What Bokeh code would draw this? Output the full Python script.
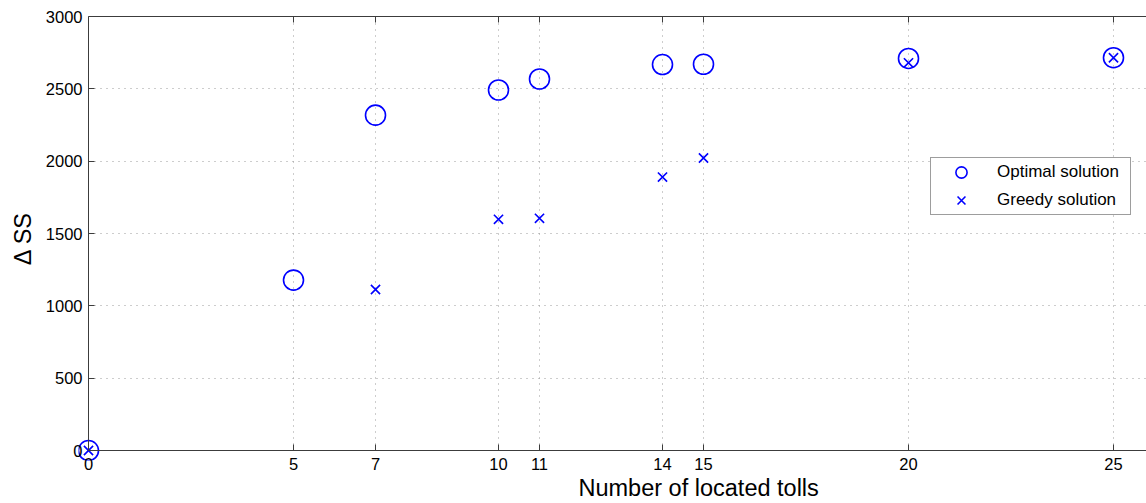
from bokeh.plotting import figure
from bokeh.models import (ColumnDataSource, FixedTicker, LinearAxis, Range1d,
                          Legend, LegendItem, Title)
from bokeh.embed import file_html
from bokeh.resources import INLINE

# ---- data ----
tolls_optimal = [0, 5, 7, 10, 11, 14, 15, 20, 25]
ss_optimal = [0, 1178, 2318, 2492, 2568, 2668, 2670, 2710, 2715]
tolls_greedy = [0, 7, 10, 11, 14, 15, 20, 25]
ss_greedy = [0, 1113, 1598, 1605, 1890, 2022, 2680, 2715]
x_ticks = [0, 5, 7, 10, 11, 14, 15, 20, 25]
y_ticks = [0, 500, 1000, 1500, 2000, 2500, 3000]

FONT = "Liberation Sans"
BLUE = "#0000ff"
AXC = "#3c3c3c"

X_END = 25.805
p = figure(width=1146, height=503, output_backend="svg", toolbar_location=None,
           x_range=Range1d(-0.244, X_END), y_range=Range1d(-69, 3000),
           min_border_left=78, min_border_top=16, min_border_right=0,
           min_border_bottom=43)
p.outline_line_color = None
p.background_fill_color = "white"
p.border_fill_color = "white"

# grid
for g in (p.xgrid, p.ygrid):
    g.grid_line_color = "#9a9a9a"
    g.grid_line_dash = "1 5"
    g.grid_line_width = 1
p.xgrid.ticker = FixedTicker(ticks=x_ticks)
p.ygrid.ticker = FixedTicker(ticks=y_ticks)
p.xgrid.cross_bounds = (0, 3000)
p.ygrid.cross_bounds = (0, X_END)

# label-only axes in the side panels
xa = p.xaxis[0]
ya = p.yaxis[0]
xa.ticker = FixedTicker(ticks=x_ticks)
ya.ticker = FixedTicker(ticks=y_ticks)
for a in (xa, ya):
    a.axis_line_color = None
    a.major_tick_line_color = None
    a.major_tick_in = 0
    a.major_tick_out = 0
    a.minor_tick_line_color = None
    a.major_label_text_font = FONT
    a.major_label_text_font_size = "16.5px"
    a.major_label_text_color = "black"
xa.major_label_standoff = -3
ya.major_label_standoff = -4
ya.axis_label = "\u0394 SS"
ya.axis_label_text_font = FONT
ya.axis_label_text_font_size = "23.5px"
ya.axis_label_text_font_style = "normal"
ya.axis_label_text_color = "black"
ya.axis_label_standoff = 7

# axis lines with inward ticks, fixed at the data origin
def tick_axis(ticks, bounds, loc):
    return LinearAxis(ticker=FixedTicker(ticks=ticks), bounds=bounds,
                      fixed_location=loc, axis_line_color=AXC,
                      major_tick_in=6, major_tick_out=0,
                      major_tick_line_color=AXC, minor_tick_line_color=None,
                      major_label_text_font_size="0px", major_label_standoff=0)

p.add_layout(tick_axis(x_ticks, (0, X_END), 0), "below")
p.add_layout(tick_axis(y_ticks, (0, 3000), 0), "left")
top = tick_axis(x_ticks, (0, X_END), None)
p.add_layout(top, "above")

# data
src_o = ColumnDataSource(dict(x=tolls_optimal, y=ss_optimal))
src_g = ColumnDataSource(dict(x=tolls_greedy, y=ss_greedy))
r_o = p.scatter("x", "y", source=src_o, marker="circle", size=20,
                fill_color=None, line_color=BLUE, line_width=1.6)
r_g = p.scatter("x", "y", source=src_g, marker="x", size=13,
                line_color=BLUE, line_width=1.6)

legend = Legend(items=[LegendItem(label="Optimal solution", renderers=[r_o]),
                       LegendItem(label="Greedy solution", renderers=[r_g])],
                location=(852, 245), orientation="vertical")
legend.label_text_font = FONT
legend.label_text_font_size = "17px"
legend.label_text_color = "black"
legend.border_line_color = AXC
legend.border_line_width = 1
legend.background_fill_color = "white"
legend.background_fill_alpha = 1
legend.glyph_width = 60
legend.glyph_height = 28
legend.label_height = 28
legend.label_width = 133
legend.spacing = 0
legend.padding = 0
legend.margin = 0
legend.label_standoff = 6
p.add_layout(legend, "center")

# x-axis title (centred on the full original axis width, which is cropped)
p.add_layout(Title(text="Number of located tolls", align="left", offset=500,
                   standoff=0, text_font=FONT, text_font_size="23.5px",
                   text_font_style="normal", text_color="black"), "below")

open("out.html", "w").write(file_html(p, INLINE))
